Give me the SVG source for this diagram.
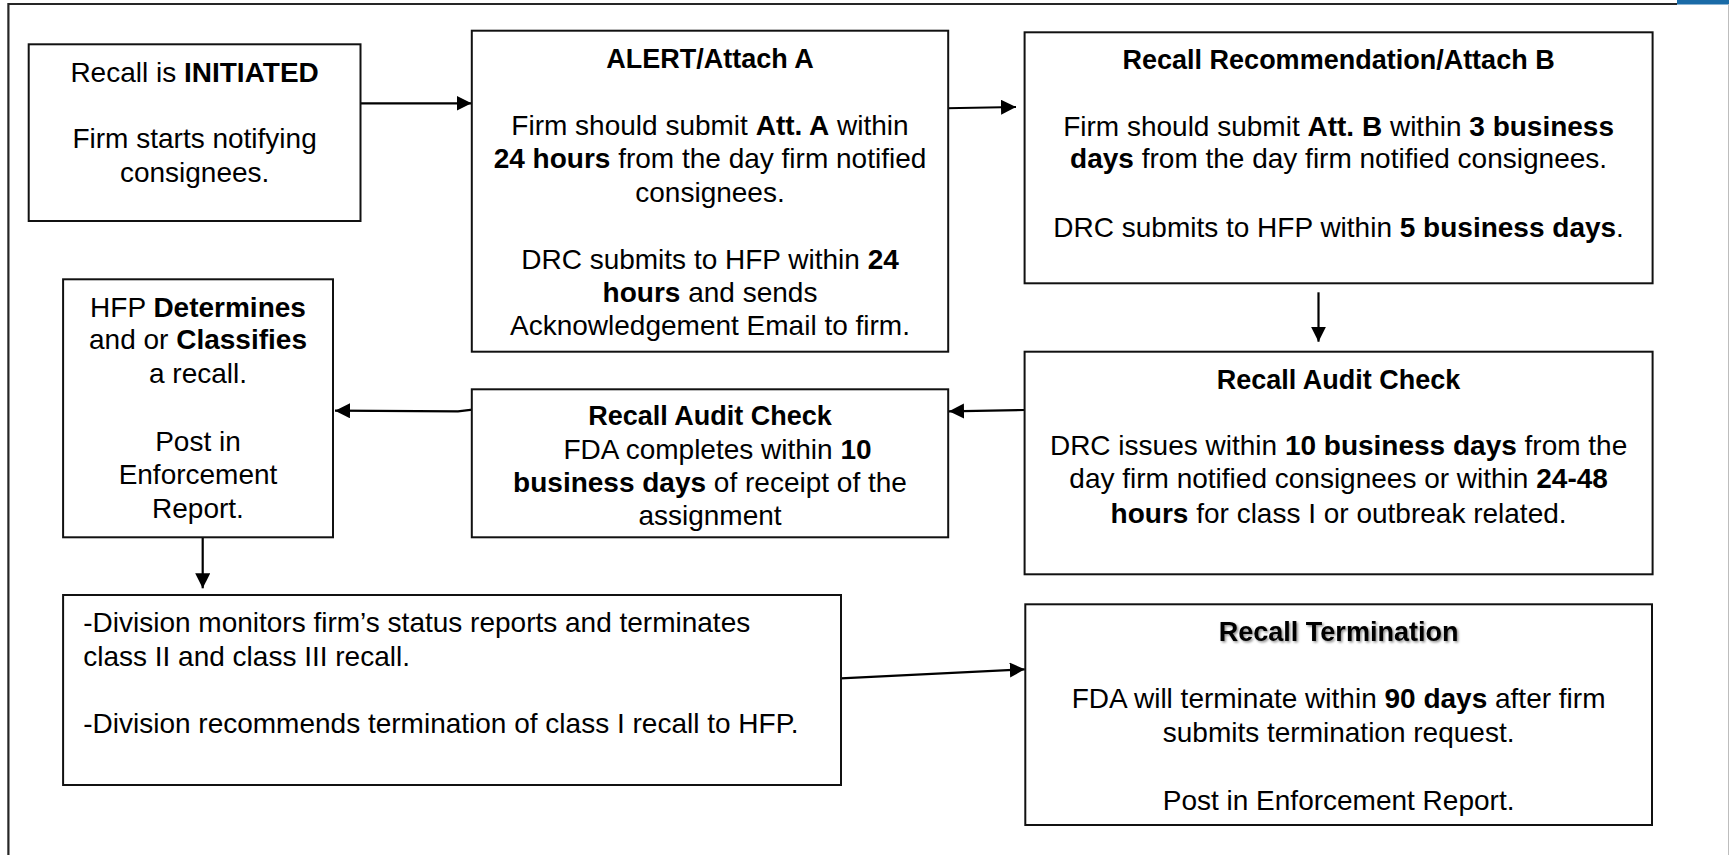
<svg xmlns="http://www.w3.org/2000/svg" width="1729" height="855" viewBox="0 0 1729 855">
  <defs>
    <style>
      .box { fill: #ffffff; stroke: #111111; stroke-width: 2; }
      .t { font-family: "Liberation Sans", Arial, Helvetica, sans-serif; font-size: 28px; fill: #000000; }
      .c { text-anchor: middle; }
      .b { font-weight: bold; }
      .ttl { font-family: "Liberation Sans", Arial, Helvetica, sans-serif; font-size: 27px; font-weight: bold; fill: #000000; text-anchor: middle; }
      .conn { fill: none; stroke: #000000; stroke-width: 2.2; marker-end: url(#arrow); }
      .frame { fill: none; stroke: #262626; stroke-width: 2.2; }
    </style>
    <marker id="arrow" markerUnits="userSpaceOnUse" markerWidth="16" markerHeight="16" refX="15" refY="7.5" orient="auto">
      <path d="M0,0 L15,7.5 L0,15 Z" fill="#000000"/>
    </marker>
    <filter id="shadow" x="-10%" y="-30%" width="120%" height="160%">
      <feDropShadow dx="1.5" dy="1.5" stdDeviation="1.2" flood-color="#000000" flood-opacity="0.45"/>
    </filter>
  </defs>

  <rect x="0" y="0" width="1729" height="855" fill="#ffffff"/>

  <!-- page frame -->
  <g id="frame">
    <path class="frame" d="M8.4,855 V4 H1677"/>
    <rect x="1677" y="0" width="52" height="4.5" fill="#1a6ba7"/>
    <line x1="1728.5" y1="4" x2="1728.5" y2="855" stroke="#bdbdbd" stroke-width="1"/>
  </g>

  <!-- connectors -->
  <g id="connectors">
    <path class="conn" d="M360.5,103.3 H471.5"/>
    <path class="conn" d="M932,108.5 L1016,107"/>
    <path class="conn" d="M1318.5,292.3 V341.7"/>
    <path class="conn" d="M1024.6,410 L949,411.3"/>
    <path class="conn" d="M474.6,409.4 L458,411.4 L335,410.7"/>
    <path class="conn" d="M202.7,537.3 V588.3"/>
    <path class="conn" d="M840.7,678.3 L1024.8,669.3"/>
  </g>

  <g id="node-initiated">
    <rect class="box" x="28.7" y="44.3" width="331.8" height="176.7"/>
    <text class="t c" x="194.6" y="81.7">Recall is <tspan class="b">INITIATED</tspan></text>
    <text class="t c" x="194.6" y="148">Firm starts notifying</text>
    <text class="t c" x="194.6" y="182">consignees.</text>
  </g>

  <g id="node-alert">
    <rect class="box" x="471.8" y="30.7" width="476.4" height="321"/>
    <text class="ttl" x="710" y="67.7">ALERT/Attach A</text>
    <text class="t c" x="710" y="135">Firm should submit <tspan class="b">Att. A</tspan> within</text>
    <text class="t c" x="710" y="168.3"><tspan class="b">24 hours</tspan> from the day firm notified</text>
    <text class="t c" x="710" y="201.7">consignees.</text>
    <text class="t c" x="710" y="269.3">DRC submits to HFP within <tspan class="b">24</tspan></text>
    <text class="t c" x="710" y="301.7"><tspan class="b">hours</tspan> and sends</text>
    <text class="t c" x="710" y="335">Acknowledgement Email to firm.</text>
  </g>

  <g id="node-recommendation">
    <rect class="box" x="1024.6" y="32.3" width="628" height="251"/>
    <text class="ttl" x="1338.6" y="69">Recall Recommendation/Attach B</text>
    <text class="t c" x="1338.6" y="135.7">Firm should submit <tspan class="b">Att. B</tspan> within <tspan class="b">3 business</tspan></text>
    <text class="t c" x="1338.6" y="168.3"><tspan class="b">days</tspan> from the day firm notified consignees.</text>
    <text class="t c" x="1338.6" y="236.7">DRC submits to HFP within <tspan class="b">5 business days</tspan>.</text>
  </g>

  <g id="node-audit-drc">
    <rect class="box" x="1024.6" y="351.7" width="628" height="222.6"/>
    <text class="ttl" x="1338.6" y="389">Recall Audit Check</text>
    <text class="t c" x="1338.6" y="455">DRC issues within <tspan class="b">10 business days</tspan> from the</text>
    <text class="t c" x="1338.6" y="488.3">day firm notified consignees or within <tspan class="b">24-48</tspan></text>
    <text class="t c" x="1338.6" y="522.7"><tspan class="b">hours</tspan> for class I or outbreak related.</text>
  </g>

  <g id="node-audit-fda">
    <rect class="box" x="471.8" y="389.3" width="476.4" height="148"/>
    <text class="ttl" x="710" y="425">Recall Audit Check</text>
    <text class="t c" x="717.5" y="459.3">FDA completes within <tspan class="b">10</tspan></text>
    <text class="t c" x="710" y="491.7"><tspan class="b">business days</tspan> of receipt of the</text>
    <text class="t c" x="710" y="525">assignment</text>
  </g>

  <g id="node-hfp">
    <rect class="box" x="63.1" y="279.3" width="269.9" height="258"/>
    <text class="t c" x="198" y="316.7">HFP <tspan class="b">Determines</tspan></text>
    <text class="t c" x="198" y="349.3">and or <tspan class="b">Classifies</tspan></text>
    <text class="t c" x="198" y="383.3">a recall.</text>
    <text class="t c" x="198" y="450.7">Post in</text>
    <text class="t c" x="198" y="484">Enforcement</text>
    <text class="t c" x="198" y="518.3">Report.</text>
  </g>

  <g id="node-division">
    <rect class="box" x="63.1" y="595" width="777.9" height="190"/>
    <text class="t" x="83.2" y="631.7">-Division monitors firm’s status reports and terminates</text>
    <text class="t" x="83.2" y="666">class II and class III recall.</text>
    <text class="t" x="83.2" y="733.3">-Division recommends termination of class I recall to HFP.</text>
  </g>

  <g id="node-termination">
    <rect class="box" x="1025.3" y="604.3" width="626.7" height="220.7"/>
    <text class="ttl" x="1338.6" y="641" filter="url(#shadow)">Recall Termination</text>
    <text class="t c" x="1338.6" y="708.3">FDA will terminate within <tspan class="b">90 days</tspan> after firm</text>
    <text class="t c" x="1338.6" y="741.7">submits termination request.</text>
    <text class="t c" x="1338.6" y="810">Post in Enforcement Report.</text>
  </g>
</svg>
